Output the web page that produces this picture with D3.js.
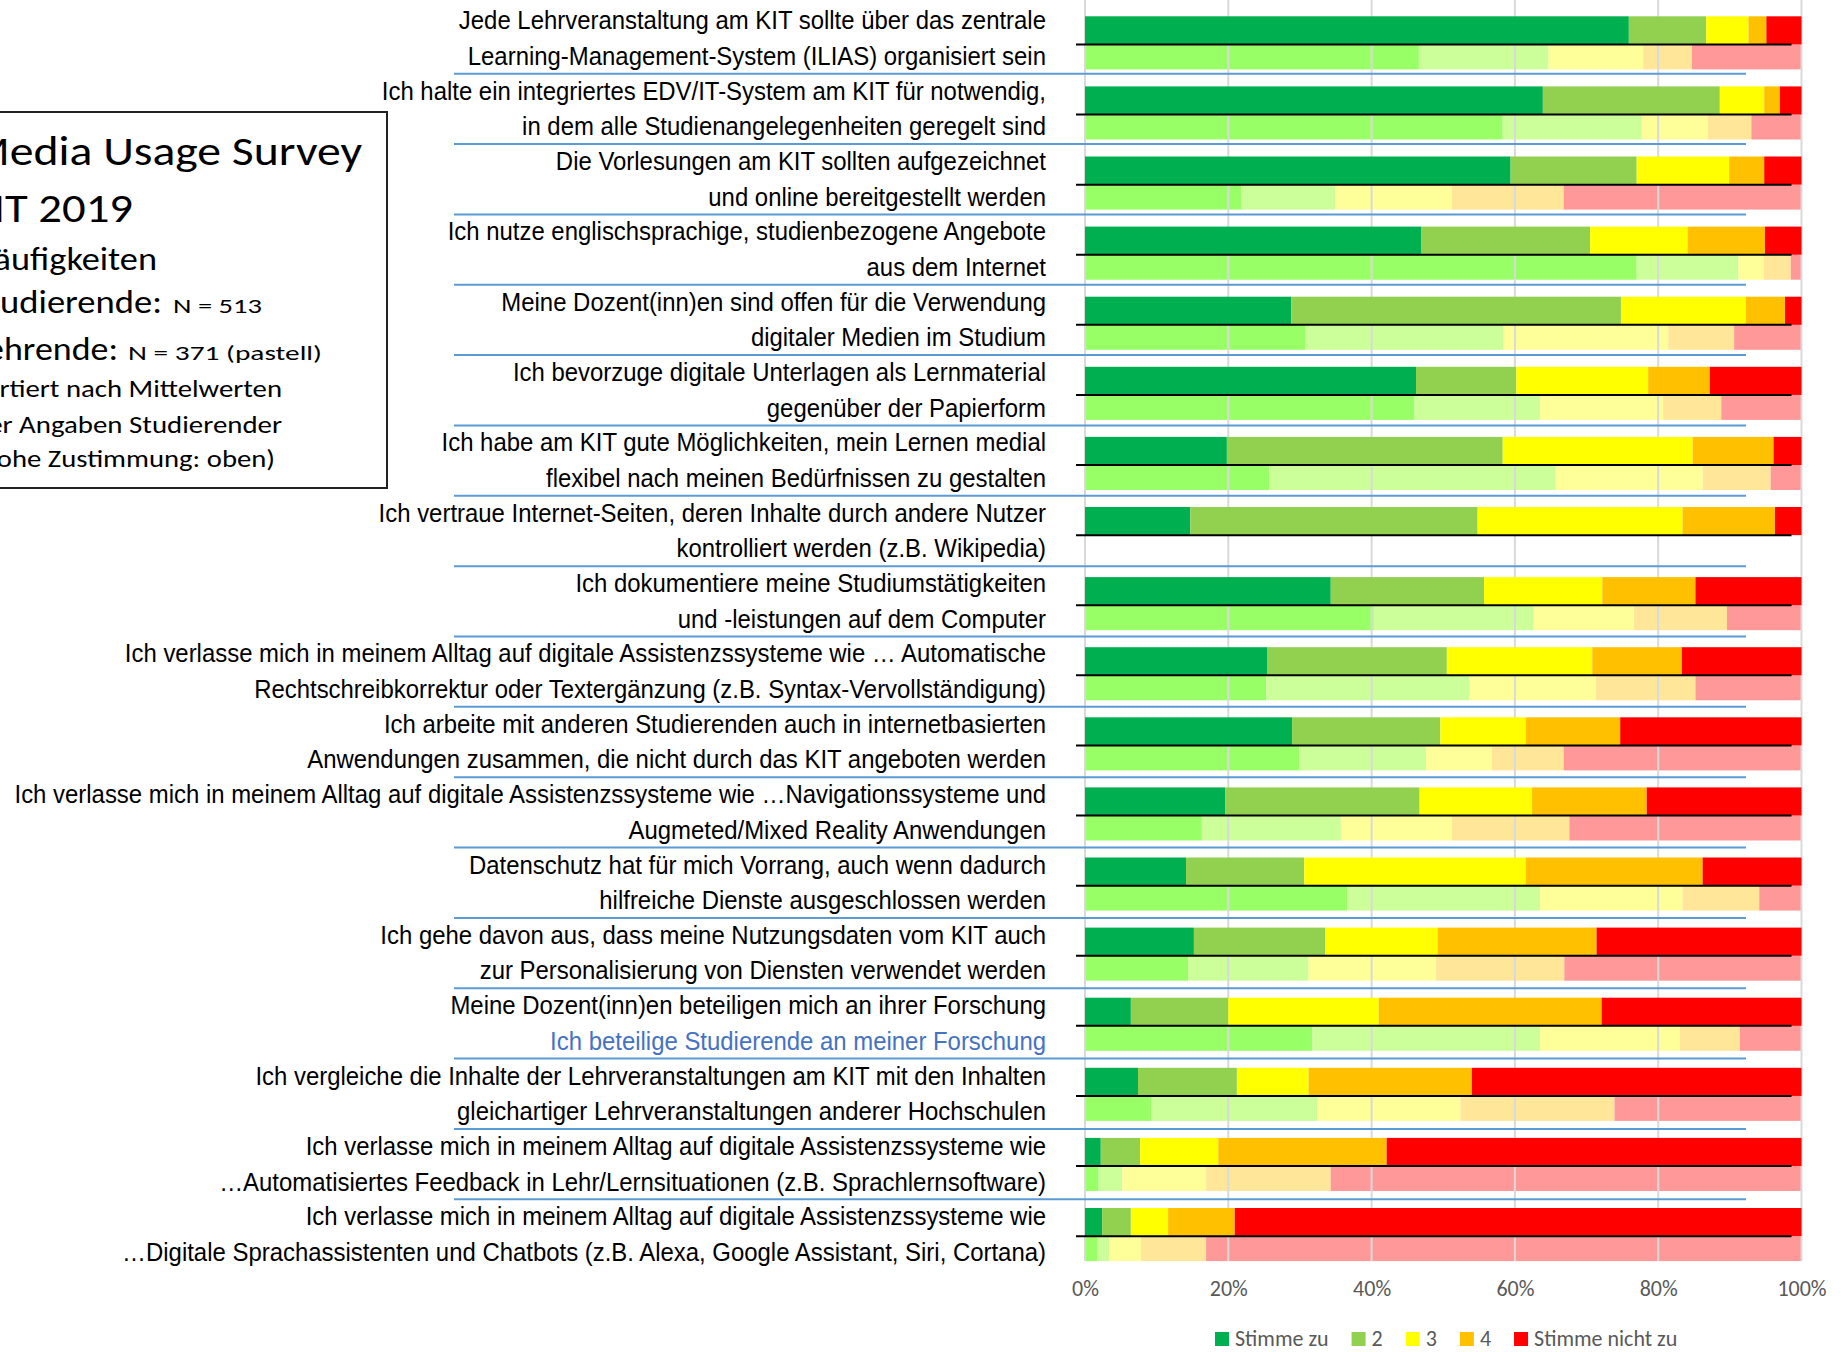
<!DOCTYPE html>
<html>
<head>
<meta charset="utf-8">
<script src="https://cdn.jsdelivr.net/npm/d3@7"></script>
<style>
  body { margin: 0; background: #fff; }
  svg { display: block; }
</style>
</head>
<body>
<script>
// Media Usage Survey KIT 2019 - stacked 100% bars, students (dark) vs lecturers (pastel)

// question labels, two lines each
var questions = [
    ["Jede Lehrveranstaltung am KIT sollte über das zentrale", "Learning-Management-System (ILIAS) organisiert sein"],
    ["Ich halte ein integriertes EDV/IT-System am KIT für notwendig,", "in dem alle Studienangelegenheiten geregelt sind"],
    ["Die Vorlesungen am KIT sollten aufgezeichnet", "und online bereitgestellt werden"],
    ["Ich nutze englischsprachige, studienbezogene Angebote", "aus dem Internet"],
    ["Meine Dozent(inn)en sind offen für die Verwendung", "digitaler Medien im Studium"],
    ["Ich bevorzuge digitale Unterlagen als Lernmaterial", "gegenüber der Papierform"],
    ["Ich habe am KIT gute Möglichkeiten, mein Lernen medial", "flexibel nach meinen Bedürfnissen zu gestalten"],
    ["Ich vertraue Internet-Seiten, deren Inhalte durch andere Nutzer", "kontrolliert werden (z.B. Wikipedia)"],
    ["Ich dokumentiere meine Studiumstätigkeiten", "und -leistungen auf dem Computer"],
    ["Ich verlasse mich in meinem Alltag auf digitale Assistenzssysteme wie \u2026 Automatische", "Rechtschreibkorrektur oder Textergänzung (z.B. Syntax-Vervollständigung)"],
    ["Ich arbeite mit anderen Studierenden auch in internetbasierten", "Anwendungen zusammen, die nicht durch das KIT angeboten werden"],
    ["Ich verlasse mich in meinem Alltag auf digitale Assistenzssysteme wie \u2026Navigationssysteme und", "Augmeted/Mixed Reality Anwendungen"],
    ["Datenschutz hat für mich Vorrang, auch wenn dadurch", "hilfreiche Dienste ausgeschlossen werden"],
    ["Ich gehe davon aus, dass meine Nutzungsdaten vom KIT auch", "zur Personalisierung von Diensten verwendet werden"],
    ["Meine Dozent(inn)en beteiligen mich an ihrer Forschung", "Ich beteilige Studierende an meiner Forschung"],
    ["Ich vergleiche die Inhalte der Lehrveranstaltungen am KIT mit den Inhalten", "gleichartiger Lehrveranstaltungen anderer Hochschulen"],
    ["Ich verlasse mich in meinem Alltag auf digitale Assistenzssysteme wie", "\u2026Automatisiertes Feedback in Lehr/Lernsituationen (z.B. Sprachlernsoftware)"],
    ["Ich verlasse mich in meinem Alltag auf digitale Assistenzssysteme wie", "\u2026Digitale Sprachassistenten und Chatbots (z.B. Alexa, Google Assistant, Siri, Cortana)"]
];

// answer categories (legend)
var categories = ["Stimme zu", "2", "3", "4", "Stimme nicht zu"];

// students, N = 513 (percent per category)
var students = [
    [75.9, 10.8, 5.9, 2.5, 4.9],
    [63.9, 24.7, 6.2, 2.2, 3.0],
    [59.4, 17.6, 12.9, 4.9, 5.2],
    [46.9, 23.6, 13.6, 10.8, 5.1],
    [28.8, 46.0, 17.4, 5.5, 2.3],
    [46.2, 14.0, 18.4, 8.6, 12.8],
    [19.8, 38.5, 26.5, 11.3, 3.9],
    [14.7, 40.1, 28.6, 12.9, 3.7],
    [34.3, 21.4, 16.5, 13.0, 14.8],
    [25.4, 25.1, 20.3, 12.5, 16.7],
    [28.9, 20.7, 11.9, 13.2, 25.3],
    [19.6, 27.1, 15.7, 16.0, 21.6],
    [14.1, 16.5, 30.9, 24.7, 13.8],
    [15.2, 18.3, 15.7, 22.2, 28.6],
    [6.4, 13.6, 21.0, 31.1, 27.9],
    [7.4, 13.8, 10.0, 22.8, 46.0],
    [2.2, 5.5, 10.9, 23.5, 57.9],
    [2.4, 4.0, 5.2, 9.3, 79.1]
];

// lecturers, N = 371 (pastel), null = question not asked
var lecturers = [
    [46.6, 18.1, 13.2, 6.8, 15.3],
    [58.3, 19.4, 9.2, 6.1, 7.0],
    [21.8, 13.1, 16.3, 15.6, 33.2],
    [77.0, 14.2, 3.5, 3.8, 1.5],
    [30.8, 27.6, 23.0, 9.2, 9.4],
    [46.0, 17.5, 17.2, 8.1, 11.2],
    [25.7, 40.0, 20.5, 9.5, 4.3],
    null,
    [40.3, 22.3, 14.0, 13.0, 10.4],
    [25.3, 28.3, 17.7, 13.9, 14.8],
    [29.9, 17.7, 9.2, 10.0, 33.2],
    [16.3, 19.4, 15.5, 16.4, 32.4],
    [36.6, 26.9, 19.9, 10.7, 5.9],
    [14.4, 16.8, 17.8, 17.9, 33.1],
    [31.7, 31.8, 19.5, 8.4, 8.6],
    [9.3, 23.1, 20.0, 21.5, 26.1],
    [1.9, 3.3, 11.7, 17.4, 65.7],
    [1.7, 1.7, 4.4, 9.1, 83.1]
];

var xTicks = [0, 20, 40, 60, 80, 100];

var studentColors = ["#00b050", "#92d050", "#ffff00", "#ffc000", "#ff0000"];
var lecturerColors = ["#99ff66", "#ccff99", "#ffff99", "#ffe699", "#ff9999"];

var width = 1845,
    height = 1352;

var labelFont = "'Liberation Sans Narrow', 'Arial Narrow', 'Liberation Sans', Arial, sans-serif";
var boxFont = "Carlito, Calibri, Lato, sans-serif";

var svg = d3.select("body").append("svg")
    .attr("width", width)
    .attr("height", height);

// scales
var x = d3.scaleLinear().domain([0, 100]).range([1085, 1801.5]);

var rowStep = 70.1;
var y = d3.scaleBand()
    .domain(d3.range(questions.length))
    .range([7.8, 7.8 + rowStep * questions.length])
    .paddingInner(0.2425)
    .paddingOuter(0.12125);
var studentH = y.bandwidth() * 0.53;

// the label column is laid out on a slightly different pitch
var yLabel = d3.scaleBand()
    .domain(d3.range(questions.length))
    .range([3.35, 3.35 + 70.35 * questions.length]);

// stack the data
var keys = d3.range(categories.length);
function toRows(arr) {
    return arr.map(function (vals, i) {
        var r = { idx: i };
        keys.forEach(function (k) { r[k] = vals ? vals[k] : 0; });
        return r;
    });
}
var stack = d3.stack().keys(keys);
var studentSeries = stack(toRows(students));
var lecturerSeries = stack(toRows(lecturers));

// lecturer bars (behind the gridlines)
svg.append("g").attr("class", "lecturers")
    .selectAll("g")
    .data(lecturerSeries)
    .join("g")
    .attr("fill", function (d, i) { return lecturerColors[i]; })
    .selectAll("rect")
    .data(function (d) { return d.filter(function (p) { return lecturers[p.data.idx] !== null; }); })
    .join("rect")
    .attr("x", function (d) { return x(d[0]); })
    .attr("width", function (d) { return x(d[1]) - x(d[0]); })
    .attr("y", function (d) { return y(d.data.idx) + studentH; })
    .attr("height", y.bandwidth() - studentH);

// gridlines
svg.append("g").attr("class", "grid")
    .selectAll("line")
    .data(xTicks)
    .join("line")
    .attr("x1", function (d) { return x(d); })
    .attr("x2", function (d) { return x(d); })
    .attr("y1", 0)
    .attr("y2", y(questions.length - 1) + y.bandwidth())
    .attr("stroke", "#d9d9d9")
    .attr("stroke-width", 2);

// student bars
svg.append("g").attr("class", "students")
    .selectAll("g")
    .data(studentSeries)
    .join("g")
    .attr("fill", function (d, i) { return studentColors[i]; })
    .selectAll("rect")
    .data(function (d) { return d; })
    .join("rect")
    .attr("x", function (d) { return x(d[0]); })
    .attr("width", function (d) { return x(d[1]) - x(d[0]); })
    .attr("y", function (d) { return y(d.data.idx); })
    .attr("height", studentH);

// black separator under each student bar
svg.append("g").attr("class", "blacklines")
    .selectAll("line")
    .data(d3.range(questions.length))
    .join("line")
    .attr("x1", x(0) - 9)
    .attr("x2", x(100) - 10)
    .attr("y1", function (i) { return y(i) + studentH; })
    .attr("y2", function (i) { return y(i) + studentH; })
    .attr("stroke", "#000")
    .attr("stroke-width", 2);

// blue separators between the questions
svg.append("g").attr("class", "bluelines")
    .selectAll("line")
    .data(d3.range(questions.length - 1))
    .join("line")
    .attr("x1", 454)
    .attr("x2", 1746)
    .attr("y1", function (i) { return yLabel(i) + yLabel.step(); })
    .attr("y2", function (i) { return yLabel(i) + yLabel.step(); })
    .attr("stroke", "#5b9bd5")
    .attr("stroke-width", 2);

// question labels (narrow font: squeeze horizontally)
var labels = svg.append("g").attr("class", "labels")
    .attr("transform", "translate(1046,0) scale(0.938,1)")
    .attr("font-family", labelFont)
    .attr("font-size", 25.5)
    .attr("text-anchor", "end");
questions.forEach(function (q, i) {
    q.forEach(function (line, j) {
        labels.append("text")
            .attr("x", 0)
            .attr("y", yLabel(i) + 26 + j * 35.6)
            .attr("fill", (i === 14 && j === 1) ? "#4472c4" : "#000")
            .text(line);
    });
});

// x axis
var xAxis = svg.append("g")
    .attr("transform", "translate(0," + 1277 + ")")
    .call(d3.axisBottom(x).tickValues(xTicks).tickSize(0).tickFormat(function (d) { return d + "%"; }));
xAxis.select(".domain").remove();
xAxis.selectAll("text")
    .attr("font-family", boxFont)
    .attr("font-size", 22)
    .attr("fill", "#595959");

// legend
var legend = svg.append("g").attr("class", "legend")
    .attr("font-family", boxFont)
    .attr("font-size", 22)
    .attr("fill", "#595959");
var lx = 1215;
categories.forEach(function (c, i) {
    legend.append("rect")
        .attr("x", lx).attr("y", 1332)
        .attr("width", 14).attr("height", 14)
        .attr("fill", studentColors[i]);
    var t = legend.append("text")
        .attr("x", lx + 20).attr("y", 1346)
        .text(c);
    lx += 20 + t.node().getComputedTextLength() + 23;
});

// info box on the left (partly cut off by the page edge)
svg.append("rect")
    .attr("x", -10).attr("y", 112)
    .attr("width", 397).attr("height", 376)
    .attr("fill", "none")
    .attr("stroke", "#222")
    .attr("stroke-width", 2);

// each piece: text, left, right, baseline, size
var boxLines = [
    ["Media Usage Survey", -31, 362, 165, 42],
    ["KIT 2019", -31, 133, 222, 42],
    ["Häufigkeiten", -29, 157, 270, 32],
    ["Studierende:", -29, 162, 313, 32],
    ["N = 513", 173, 262, 313, 21],
    ["Lehrende:", -29, 118, 360, 32],
    ["N = 371 (pastell)", 128, 322, 360, 21],
    ["sortiert nach Mittelwerten", -27, 282, 397, 25],
    ["der Angaben Studierender", -27, 282, 433, 25],
    ["(hohe Zustimmung: oben)", -27, 275, 467, 25]
];
svg.append("g")
    .attr("font-family", boxFont)
    .attr("fill", "#000")
    .selectAll("text")
    .data(boxLines)
    .join("text")
    .attr("x", function (d) { return d[1]; })
    .attr("y", function (d) { return d[3]; })
    .attr("font-size", function (d) { return d[4]; })
    .attr("textLength", function (d) { return d[2] - d[1]; })
    .attr("lengthAdjust", "spacingAndGlyphs")
    .text(function (d) { return d[0]; });
</script>
</body>
</html>
